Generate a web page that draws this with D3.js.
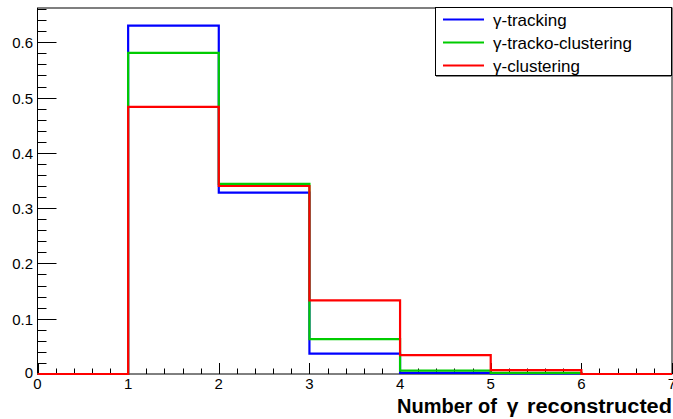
<!DOCTYPE html>
<html><head><meta charset="utf-8">
<script src="https://cdn.jsdelivr.net/npm/d3@7"></script>
<style>body{margin:0;background:#fff}svg{display:block}</style>
</head><body>
<svg id="c" width="673" height="419"></svg>
<script>
const binEdges = [0,1,2,3,4,5,6,7];
const seriesNames = ["γ-tracking","γ-tracko-clustering","γ-clustering"];
const seriesColors = ["#0000ff","#00cc00","#ff0000"];
const tracking = [0, 0.630, 0.328, 0.037, 0.002, 0.001, 0];
const trackoClustering = [0, 0.581, 0.344, 0.063, 0.006, 0.002, 0];
const clustering = [0, 0.483, 0.340, 0.133, 0.034, 0.007, 0];
const xTicks = [0,1,2,3,4,5,6,7];
const yTicks = [0,0.1,0.2,0.3,0.4,0.5,0.6];
const xTitle = ["Number of","γ","reconstructed"];

const svg = d3.select("#c");
const L=37.5, R=672, T=8, B=374;
const x = d3.scaleLinear().domain([0,7]).range([L,R]);
const y = d3.scaleLinear().domain([0,0.662]).range([B,T]);
const font = "'Liberation Sans', Arial, Helvetica, sans-serif";

// frame
svg.append("rect").attr("x",L).attr("y",T).attr("width",R-L).attr("height",B-T)
  .attr("fill","none").attr("stroke","#000").attr("stroke-width",1);

// y ticks
const yMinor = d3.range(0,0.661,0.02);
svg.append("g").selectAll("line").data(yMinor).join("line")
  .attr("x1",L).attr("x2",L+9).attr("y1",d=>Math.round(y(d))+0.5).attr("y2",d=>Math.round(y(d))+0.5)
  .attr("stroke","#000");
svg.append("g").selectAll("line").data(yTicks).join("line")
  .attr("x1",L).attr("x2",L+19).attr("y1",d=>Math.round(y(d))+0.5).attr("y2",d=>Math.round(y(d))+0.5)
  .attr("stroke","#000");
svg.append("g").selectAll("text").data(yTicks).join("text")
  .attr("x",33).attr("y",d=>d===0?B+4:y(d)+6)
  .attr("text-anchor","end").attr("font-family",font).attr("font-size",15)
  .text(d=>d===0?"0":d3.format(".1f")(d));

// x ticks
const xMinor = d3.range(0,7.001,0.2);
svg.append("g").selectAll("line").data(xMinor).join("line")
  .attr("x1",d=>Math.round(x(d))+0.5).attr("x2",d=>Math.round(x(d))+0.5).attr("y1",B).attr("y2",B-5.5)
  .attr("stroke","#000");
svg.append("g").selectAll("line").data(xTicks).join("line")
  .attr("x1",d=>Math.round(x(d))+0.5).attr("x2",d=>Math.round(x(d))+0.5).attr("y1",B).attr("y2",B-11)
  .attr("stroke","#000");
svg.append("g").selectAll("text").data(xTicks).join("text")
  .attr("x",d=>x(d)).attr("y",B+15)
  .attr("text-anchor","middle").attr("font-family",font).attr("font-size",15)
  .text(d=>d);

// histograms
function stepPath(vals){
  const pts=[[0,0]];
  vals.forEach((v,i)=>{pts.push([binEdges[i],v]);pts.push([binEdges[i+1],v]);});
  pts.push([7,0]);
  return d3.line().x(d=>x(d[0])).y(d=>y(d[1]))(pts);
}
[tracking,trackoClustering,clustering].forEach((vals,i)=>{
  svg.append("path").attr("d",stepPath(vals)).attr("fill","none")
    .attr("stroke",seriesColors[i]).attr("stroke-width",2.2);
});

// legend
const lg = svg.append("g");
lg.append("rect").attr("x",435.5).attr("y",7.5).attr("width",236).attr("height",68)
  .attr("fill","#fff").attr("stroke","#000");
lg.append("line").attr("x1",436).attr("x2",672).attr("y1",76.5).attr("y2",76.5).attr("stroke","#888");
const rows=[19.5,42.5,65.5];
seriesNames.forEach((n,i)=>{
  lg.append("line").attr("x1",443).attr("x2",484).attr("y1",rows[i]).attr("y2",rows[i])
    .attr("stroke",seriesColors[i]).attr("stroke-width",2.2);
  lg.append("text").attr("x",493).attr("y",rows[i]+6).attr("font-family",font).attr("font-size",17)
    .text(n);
});

// x title
const tg = svg.append("g").attr("font-family",font).attr("font-size",20).attr("font-weight","bold");
tg.append("text").attr("x",397).attr("y",413).attr("textLength",100).attr("lengthAdjust","spacingAndGlyphs").text(xTitle[0]);
tg.append("text").attr("x",512.5).attr("y",413).attr("text-anchor","middle").attr("font-size",21).text(xTitle[1]);
tg.append("text").attr("x",527).attr("y",413).attr("textLength",145).attr("lengthAdjust","spacingAndGlyphs").text(xTitle[2]);
</script>
</body></html>
